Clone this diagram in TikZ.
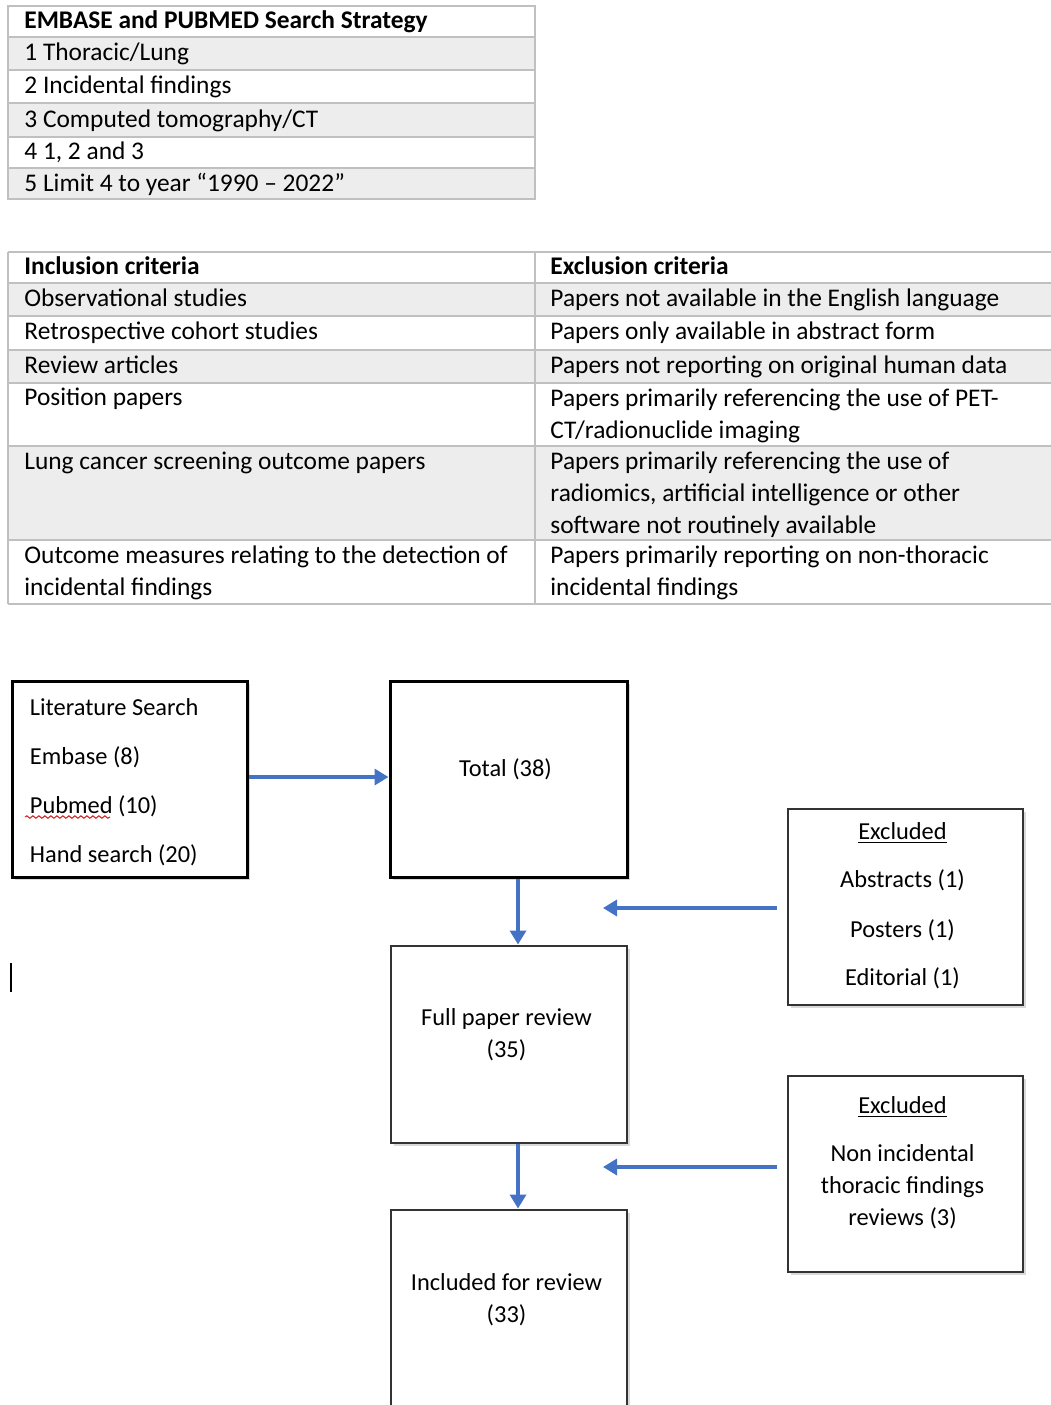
\documentclass[tikz,border=0pt]{standalone}
\usepackage{fontspec}
\setmainfont{Carlito}
\usepackage{xcolor}
\usetikzlibrary{arrows.meta,positioning,shadows,decorations.pathmorphing}
\definecolor{lrgray}{RGB}{237,237,237}
\definecolor{lrrule}{RGB}{192,192,192}
\definecolor{lrblue}{RGB}{68,114,196}
\definecolor{lrspell}{RGB}{220,30,30}
\tikzset{
  lrtext/.style={
    inner sep=0pt,
    align=left,
    font=\fontsize{12.7}{16}\selectfont
  },
  lrhead/.style={lrtext, font=\fontsize{12.7}{16}\selectfont\bfseries},
  lrflow/.style={inner sep=0pt, align=center, font=\fontsize{12.2}{16}\selectfont},
  lrcell/.style={fill=lrgray},
  lrrow/.style={draw=lrrule, line width=1pt},
  lrbox/.style={
    draw=black!80,
    fill=white,
    line width=1pt,
    minimum width=117.5pt,
    minimum height=98pt,
    drop shadow={shadow xshift=1.5pt, shadow yshift=-1.5pt, opacity=0.3}
  },
  lrboxbold/.style={lrbox, draw=black, line width=1.5pt},
  lrarrow/.style={-{Triangle[length=7pt,width=8pt]}, line width=1.7pt, draw=lrblue, fill=lrblue}
}

\begin{document}
\begin{tikzpicture}[x=0.5pt, y=-0.5pt, node distance=33pt and 70pt]
\useasboundingbox (0,0) rectangle (1051,1405);

% search strategy table
\fill[lrcell] (8,37) rectangle (535,70);
\fill[lrcell] (8,103) rectangle (535,137);
\fill[lrcell] (8,168) rectangle (535,199);
\draw[lrrow] (8,6) rectangle (535,199);
\foreach \y in {37,70,103,137,168}
  \draw[lrrow] (8,\y) -- (535,\y);
\node[lrhead, anchor=base west] (strat) at (24,28) {EMBASE and PUBMED Search Strategy};
\node[lrtext, anchor=base west] (s1) at (24,60) {1 Thoracic/Lung};
\node[lrtext, anchor=base west] (s2) at (24,93) {2 Incidental findings};
\node[lrtext, anchor=base west] (s3) at (24,127) {3 Computed tomography/CT};
\node[lrtext, anchor=base west] (s4) at (24,159) {4 1, 2 and 3};
\node[lrtext, anchor=base west] (s5) at (24,191) {5 Limit 4 to year “1990 – 2022”};

% criteria table
\fill[lrcell] (8,283) rectangle (1051,316);
\fill[lrcell] (8,350) rectangle (1051,383);
\fill[lrcell] (8,446) rectangle (1051,540);
\foreach \y in {252,283,316,350,383,446,540,604}
  \draw[lrrow] (8,\y) -- (1051,\y);
\draw[lrrow] (8,252) -- (8,604);
\draw[lrrow] (535,252) -- (535,604);
\node[lrhead, anchor=base west] (inc) at (24,274) {Inclusion criteria};
\node[lrhead, anchor=base west] (exc) at (550,274) {Exclusion criteria};
\node[lrtext, anchor=base west] (inc1) at (24,306) {Observational studies};
\node[lrtext, anchor=base west] (inc2) at (24,339) {Retrospective cohort studies};
\node[lrtext, anchor=base west] (inc3) at (24,373) {Review articles};
\node[lrtext, anchor=base west] (inc4) at (24,405) {Position papers};
\node[lrtext, anchor=base west] (inc5) at (24,469) {Lung cancer screening outcome papers};
\node[lrtext, anchor=north west] (inc6) at (24,545) {Outcome measures relating to the detection of\\incidental findings};
\node[lrtext, anchor=base west] (exc1) at (550,306) {Papers not available in the English language};
\node[lrtext, anchor=base west] (exc2) at (550,339) {Papers only available in abstract form};
\node[lrtext, anchor=base west] (exc3) at (550,373) {Papers not reporting on original human data};
\node[lrtext, anchor=north west] (exc4) at (550,388) {Papers primarily referencing the use of PET-\\CT/radionuclide imaging};
\node[lrtext, anchor=north west] (exc5) at (550,451) {Papers primarily referencing the use of\\radiomics, artificial intelligence or other\\software not routinely available};
\node[lrtext, anchor=north west] (exc6) at (550,545) {Papers primarily reporting on non-thoracic\\incidental findings};

% flow chart
\node[lrboxbold] (search) at (129.5,779) {};
\node[lrboxbold, minimum width=118.5pt, right=of search] (total) {};
\node[lrbox, minimum width=118pt, minimum height=98.5pt, below=of total] (full) {};
\node[lrbox, minimum width=118pt, minimum height=98.5pt, below=32.5pt of full] (incl) {};
\node[lrbox] (excl1) at (905.5,907) {};
\node[lrbox, below=34.5pt of excl1] (excl2) {};

\node[lrflow, align=flush left, anchor=west] (searchtxt) at ([xshift=9.5pt,yshift=-1.5pt]search.west)
  {Literature Search\\[8.5pt]Embase (8)\\[8.5pt]Pubmed (10)\\[8.5pt]Hand search (20)};
\node[lrflow] (totaltxt) at ([xshift=-1.5pt,yshift=5pt]total.center) {Total (38)};
\node[lrflow] (fulltxt) at ([xshift=-1pt,yshift=4.5pt]full.center) {Full paper review\\(35)};
\node[lrflow] (incltxt) at ([xshift=-1pt,yshift=4pt]incl.center) {Included for review\\(33)};
\node[lrflow] (excl1txt) at ([xshift=-1.5pt,yshift=0.5pt]excl1.center)
  {\underline{Excluded}\\[8pt]Abstracts (1)\\[9pt]Posters (1)\\[8pt]Editorial (1)};
\node[lrflow] (excl2txt) at ([xshift=-1.5pt,yshift=5.5pt]excl2.center)
  {\underline{Excluded}\\[8pt]Non incidental\\thoracic findings\\reviews (3)};

\coordinate (cut1) at (603,908);
\coordinate (cut2) at (603,1167);
\draw[lrarrow] ([yshift=1pt]search.east) -- ([yshift=1pt]total.west);
\draw[lrarrow] ([xshift=4.75pt]total.south) -- ([xshift=4.75pt]full.north);
\draw[lrarrow] ([xshift=4.75pt]full.south) -- ([xshift=4.75pt]incl.north);
\draw[lrarrow] ([xshift=-5pt]excl1.west |- cut1) -- (cut1);
\draw[lrarrow] ([xshift=-5pt]excl2.west |- cut2) -- (cut2);

% spelling mark and cursor
\draw[lrspell, line width=0.5pt, decorate, decoration={snake, amplitude=0.6pt, segment length=3pt}] (25,817) -- (110,817);
\draw[line width=1pt] (11,963) -- (11,992);
\end{tikzpicture}
\end{document}
